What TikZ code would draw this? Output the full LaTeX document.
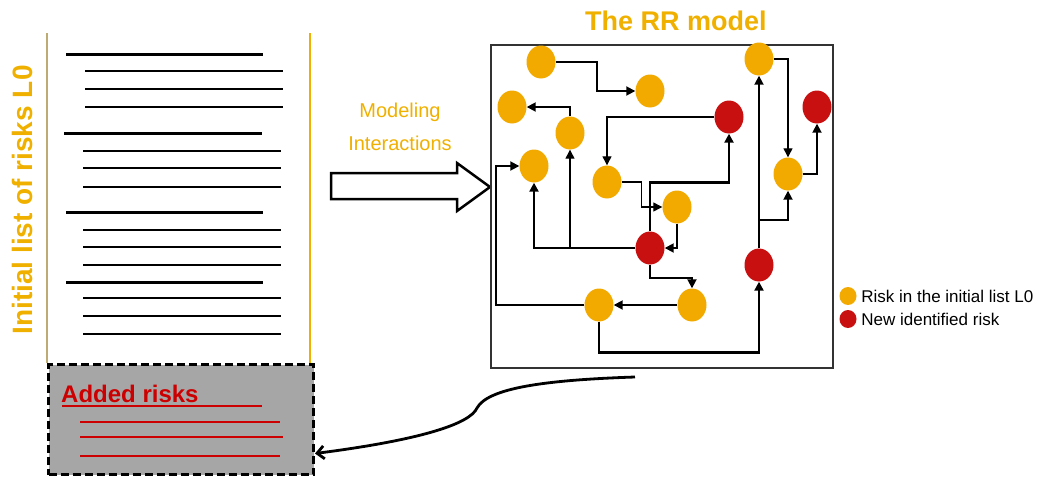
\documentclass[tikz,border=0pt]{standalone}
\usepackage{fontspec}
\setmainfont{Liberation Sans}
\usepackage{tikz}
\usetikzlibrary{
  arrows.meta,
  positioning,
  shapes.geometric
}
\definecolor{riskorange}{RGB}{242,170,0}
\definecolor{riskred}{RGB}{200,16,16}
\definecolor{titleorange}{RGB}{240,176,0}
\definecolor{addedred}{RGB}{204,0,0}
\definecolor{addedgray}{RGB}{166,166,166}
\definecolor{listtan}{RGB}{190,170,115}

\begin{document}
\begin{tikzpicture}[x=1pt, y=-1pt,
  risk/.style={ellipse, fill=riskorange, minimum width=29pt, minimum height=33pt, inner sep=0pt},
  newrisk/.style={risk, fill=riskred},
  link/.style={-{Triangle[length=9pt,width=9pt]}, line width=1.8pt},
  thinlink/.style={link, line width=1.2pt},
  thicklink/.style={link, line width=2.8pt},
  headline/.style={line width=3pt},
  itemline/.style={line width=1.8pt},
  rrtitle/.style={font=\bfseries\fontsize{27}{32}\selectfont, text=titleorange},
  legtext/.style={font=\fontsize{17}{20}\selectfont, inner sep=0pt}
]
\useasboundingbox (0,0) rectangle (1045,477);

% Initial list L0
\node[rotate=90, font=\bfseries\fontsize{28}{32}\selectfont, text=titleorange, inner sep=0pt] (l0_title) at (22,200) {Initial list of risks L0};
\draw[listtan, line width=2pt] (47,33) -- (47,363);
\draw[titleorange, line width=2pt] (310,33) -- (310,363);

\draw[headline] (66,54) -- (263,54);
\draw[itemline] (85,71) -- (283,71);
\draw[itemline] (85,89) -- (283,89);
\draw[itemline] (85,107) -- (283,107);
\draw[headline] (64,133) -- (262,133);
\draw[itemline] (83,151) -- (281,151);
\draw[itemline] (83,168) -- (281,168);
\draw[itemline] (83,187) -- (281,187);
\draw[headline] (66,212) -- (263,212);
\draw[itemline] (83,230) -- (281,230);
\draw[itemline] (83,247) -- (281,247);
\draw[itemline] (83,265) -- (281,265);
\draw[headline] (66,282) -- (263,282);
\draw[itemline] (83,298) -- (281,298);
\draw[itemline] (83,316) -- (281,316);
\draw[itemline] (83,334) -- (281,334);

% Added risks
\node[draw, line width=3pt, dash pattern=on 8pt off 4pt, fill=addedgray, minimum width=265pt, minimum height=110pt, anchor=north west] (added) at (47,363) {};
\node[anchor=base west, inner sep=0pt, text=addedred, font=\bfseries\fontsize{24}{28}\selectfont] (added_title) at (61,402) {Added risks};
\draw[addedred, line width=2.8pt] (62,406) -- (262,406);
\draw[addedred, itemline] (80,422) -- (280,422);
\draw[addedred, itemline] (80,437) -- (283,437);
\draw[addedred, itemline] (80,456) -- (280,456);

% Modeling arrow
\node[align=center, text=titleorange, font=\fontsize{20}{33}\selectfont] (modeling) at (400,127) {Modeling\\Interactions};
\draw[line width=2.5pt, fill=white] (331,173) -- (457,173) -- (457,163) -- (490,187) -- (457,211) -- (457,199) -- (331,199) -- cycle;

% The RR model
\node[rrtitle, anchor=base] (rr_title) at (676,30) {The RR model};
\node[draw=black!80, line width=1.5pt, minimum width=342pt, minimum height=323pt] (rrbox) at (662,206.5) {};

\node[risk] (l0_a) at (541,62) {};
\node[risk] (l0_b) at (650,91) {};
\node[risk] (l0_c) at (512,107) {};
\node[risk] (l0_d) at (570,133) {};
\node[risk] (l0_e) at (534,166) {};
\node[risk] (l0_f) at (607,182) {};
\node[risk] (l0_g) at (677,207) {};
\node[risk] (l0_h) at (599,305) {};
\node[risk] (l0_i) at (692,305) {};
\node[risk] (l0_j) at (759,59) {};
\node[risk] (l0_k) at (788,174) {};
\node[newrisk] (new_a) at (650,248) {};
\node[newrisk] (new_b) at (759,265) {};
\node[newrisk] (new_c) at (729,117) {};
\node[newrisk] (new_d) at (817,107) {};

\draw[link] (l0_a.east) -- ++(41,0) |- (l0_b);
\draw[link] (l0_d) |- (l0_c);
\draw[thicklink] (new_a) -| (l0_e);
\draw[thinlink] (new_a -| l0_d) -- (l0_d);
\draw[link] (l0_h.west) -- ++(-88,0) |- (l0_e);
\draw[thinlink] (new_c) -| (l0_f);
\draw[thinlink] (l0_f.east) -- ++(20,0) |- (l0_g);
\draw[thicklink] (new_a.north) -- ++(0,-49) -| (new_c);
\draw[link] (new_a.south) -- ++(0,13) -| (l0_i);
\draw[link] (l0_g) |- (new_a);
\draw[link] (l0_i) -- (l0_h);
\draw[thicklink] (l0_h.south) -- ++(0,31) -| (new_b);
\draw[link] (new_b) -- (l0_j);
\draw[link] (new_b.north) ++(0,-28) -| (l0_k);
\draw[thinlink] (l0_j) -| (l0_k);
\draw[link] (l0_k) -| (new_d);

% Legend
\node[risk, minimum width=17pt, minimum height=18pt] (leg_l0) at (848,296) {};
\node[newrisk, minimum width=17pt, minimum height=18pt] (leg_new) at (848,319) {};
\node[legtext, right=4.5pt of leg_l0] (leg_l0_txt) {Risk in the initial list L0};
\node[legtext, right=4.5pt of leg_new] (leg_new_txt) {New identified risk};

% Feedback to the list
\coordinate (fb_start) at (635,377);
\draw[line width=2.8pt, -{Straight Barb[length=7pt,width=13pt]}] (fb_start) .. controls (545,380) and (488,388) .. (477,408) .. controls (470,424) and (420,440) .. ([yshift=-34pt]added.east);

\end{tikzpicture}
\end{document}
